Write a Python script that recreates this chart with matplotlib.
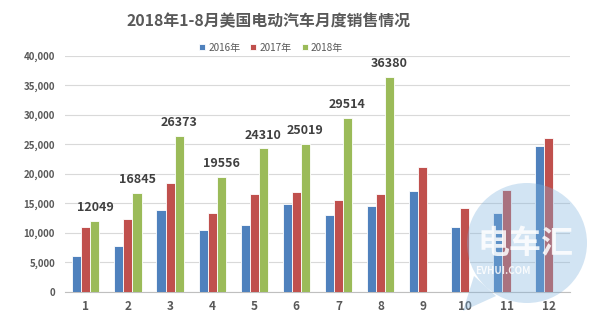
import matplotlib
matplotlib.use("Agg")
import matplotlib.pyplot as plt
import numpy as np
from matplotlib.patches import Ellipse, Polygon

plt.rcParams['font.family'] = ['Noto Sans CJK SC', 'DejaVu Sans']

months = ['1', '2', '3', '4', '5', '6', '7', '8', '9', '10', '11', '12']
sales_2016 = [6180, 7750, 13820, 10560, 11350, 14890, 12980, 14550, 17140, 10960, 13320, 24770]
sales_2017 = [10960, 12420, 18480, 13430, 16630, 16970, 15560, 16630, 21240, 14270, 17210, 26070]
sales_2018 = [12049, 16845, 26373, 19556, 24310, 25019, 29514, 36380]
series_names = ['2016年', '2017年', '2018年']
colors = ['#4F81BD', '#C0504D', '#9BBB59']
title = '2018年1-8月美国电动汽车月度销售情况'

W, H = 600, 323
fig = plt.figure(figsize=(6.0, 3.23), dpi=100)
ax = fig.add_axes([0.108, 0.096, 0.842, 0.731])

x = np.arange(len(months))
w = 0.215
ax.bar(x - w, sales_2016, width=w, color=colors[0], edgecolor='white', linewidth=0.6, label=series_names[0], zorder=3)
ax.bar(x, sales_2017, width=w, color=colors[1], edgecolor='white', linewidth=0.6, label=series_names[1], zorder=3)
x18 = np.arange(len(sales_2018))
ax.bar(x18 + w, sales_2018, width=w, color=colors[2], edgecolor='white', linewidth=0.6, label=series_names[2], zorder=3)
for xi, v in zip(x18, sales_2018):
    ax.annotate(str(v), (xi + w, v), xytext=(0, 5), textcoords='offset points',
                ha='center', va='bottom', fontsize=9, fontweight='bold', color='#404040')

ax.set_xlim(-0.5, len(months) - 0.5)
ax.set_ylim(0, 40000)
yt = np.arange(0, 40001, 5000)
ax.set_yticks(yt)
ax.set_yticklabels([f'{int(v):,}' for v in yt], fontsize=7, color='#595959', fontweight='bold')
ax.set_xticks(x)
ax.set_xticklabels(months, fontsize=8.5, color='#595959', fontweight='bold')
ax.tick_params(axis='both', length=0)
ax.tick_params(axis='x', pad=6)
ax.tick_params(axis='y', pad=7)
ax.grid(axis='y', color='#D9D9D9', linewidth=0.8, zorder=0)
for s in ['top', 'right', 'left']:
    ax.spines[s].set_visible(False)
ax.spines['bottom'].set_color('#BFBFBF')
ax.spines['bottom'].set_linewidth(0.8)

fig.text(269 / W, 0.935, title, ha='center', va='center', fontsize=11.4, fontweight='bold', color='#595959')
leg = fig.legend(loc='center', bbox_to_anchor=(271 / W, 0.852), ncol=3, frameon=False,
                 fontsize=7.2, handlelength=0.6, handleheight=0.6, handletextpad=0.3, columnspacing=1.0)
for t in leg.get_texts():
    t.set_color('#595959')

# watermark bubble
wm = '#7FB2DD'
circ = Ellipse((527 / W, 1 - 243 / H), 120 / W, 120 / H, transform=fig.transFigure,
               facecolor=wm, alpha=0.35, edgecolor='none', zorder=10)
fig.patches.append(circ)
tail = Polygon([(463 / W, 1 - 311 / H), (474 / W, 1 - 276 / H), (496 / W, 1 - 296 / H)],
               closed=True, transform=fig.transFigure, facecolor=wm, alpha=0.35, edgecolor='none', zorder=10)
fig.patches.append(tail)
fig.text(525 / W, 1 - 244 / H, '电车汇', ha='center', va='center', fontsize=23, fontweight='bold',
         color='white', alpha=0.85, zorder=11)
fig.text(503 / W, 1 - 271 / H, 'EVHUI.COM', ha='center', va='center', fontsize=7, fontweight='bold',
         color='white', alpha=0.85, zorder=11)

fig.savefig('out.png', dpi=100)
